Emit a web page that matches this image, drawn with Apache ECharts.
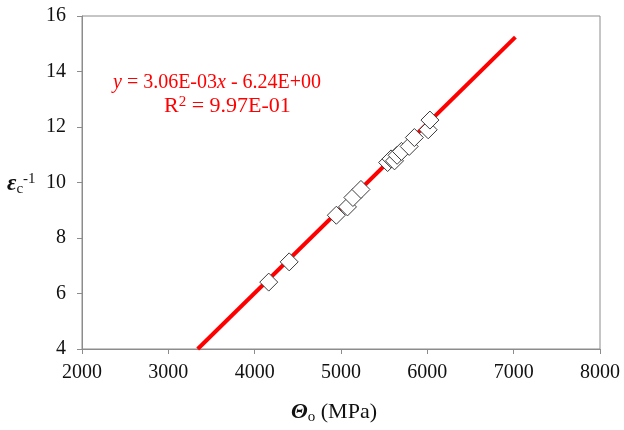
<!DOCTYPE html>
<html>
<head>
<meta charset="utf-8">
<script src="https://cdn.jsdelivr.net/npm/echarts@6/dist/echarts.min.js"></script>
<style>
html,body{margin:0;padding:0;background:#fff;}
#chart{width:624px;height:430px;}
</style>
</head>
<body>
<div id="chart"></div>
<script>
// Data
const thetaO = [4163, 4400, 4946, 5075, 5138, 5231, 5540, 5580, 5620, 5650, 5700, 5790, 5850, 6010, 6030];
const epsInv = [6.41, 7.14, 8.82, 9.12, 9.46, 9.75, 10.72, 10.85, 10.78, 10.98, 11.12, 11.30, 11.62, 11.90, 12.25];
const trendX = [3340, 7020];
const trendY = [4.0, 15.24];
const xTicks = [2000, 3000, 4000, 5000, 6000, 7000, 8000];
const yTicks = [4, 6, 8, 10, 12, 14, 16];
const eqLine1 = ['y', ' = 3.06E-03', 'x', ' - 6.24E+00'];
const eqLine2 = ['R', '2', ' = 9.97E-01'];

const serif = '"Liberation Serif", "DejaVu Serif", serif';
const chart = echarts.init(document.getElementById('chart'), null, {renderer: 'canvas'});

const scatterData = thetaO.map((x, i) => [x, epsInv[i]]);
const trendData = trendX.map((x, i) => [x, trendY[i]]);

chart.setOption({
  animation: false,
  backgroundColor: '#fff',
  grid: {
    left: 82, top: 16, right: 24, bottom: 81,
    show: true, borderColor: '#8c8c8c', borderWidth: 1, backgroundColor: 'transparent'
  },
  xAxis: {
    type: 'value',
    min: xTicks[0], max: xTicks[xTicks.length - 1], interval: 1000,
    axisLine: {show: true, lineStyle: {color: '#8c8c8c', width: 1}},
    axisTick: {show: true, inside: false, length: 5, lineStyle: {color: '#8c8c8c'}},
    splitLine: {show: false},
    axisLabel: {margin: 14, fontFamily: serif, fontSize: 20, color: '#111', formatter: v => String(v)}
  },
  yAxis: {
    type: 'value',
    min: yTicks[0], max: yTicks[yTicks.length - 1], interval: 2,
    axisLine: {show: true, lineStyle: {color: '#8c8c8c', width: 1}},
    axisTick: {show: true, inside: false, length: 5, lineStyle: {color: '#8c8c8c'}},
    splitLine: {show: false},
    axisLabel: {margin: 16, fontFamily: serif, fontSize: 20, color: '#111', formatter: v => String(v)}
  },
  series: [
    {
      type: 'line',
      data: trendData,
      symbol: 'none',
      clip: false,
      lineStyle: {color: '#ff0000', width: 4},
      z: 2
    },
    {
      type: 'scatter',
      data: scatterData,
      symbol: 'diamond',
      symbolSize: 18,
      itemStyle: {color: '#ffffff', opacity: 1, borderColor: '#3c3c3c', borderWidth: 1},
      emphasis: {disabled: true},
      z: 3
    }
  ],
  graphic: [
    {
      type: 'text', left: 113, top: 73,
      style: {
        rich: {
          it: {fontFamily: serif, fontSize: 20, fontStyle: 'italic', fill: '#ff0000'},
          n: {fontFamily: serif, fontSize: 20, fill: '#ff0000'}
        },
        text: '{it|' + eqLine1[0] + '}{n|' + eqLine1[1] + '}{it|' + eqLine1[2] + '}{n|' + eqLine1[3] + '}'
      }
    },
    {
      type: 'text', left: 164, top: 95,
      style: {
        rich: {
          n: {fontFamily: serif, fontSize: 22, fill: '#ff0000'},
          sup: {fontFamily: serif, fontSize: 15, fill: '#ff0000', verticalAlign: 'top', padding: [0, 0, 8, 0]}
        },
        text: '{n|' + eqLine2[0] + '}{sup|' + eqLine2[1] + '}{n|' + eqLine2[2] + '}'
      }
    },
    {
      type: 'text', left: 7, top: 172,
      style: {
        rich: {
          e: {fontFamily: serif, fontSize: 23, fontStyle: 'italic', fontWeight: 'bold', fill: '#111'},
          sub: {fontFamily: serif, fontSize: 15, fill: '#111', padding: [10, 0, 0, 0]},
          sup: {fontFamily: serif, fontSize: 15, fill: '#111', padding: [0, 0, 10, 0]}
        },
        text: '{e|ε}{sub|c}{sup|-1}'
      }
    },
    {
      type: 'text', left: 291, top: 401,
      style: {
        rich: {
          t: {fontFamily: serif, fontSize: 22, fontStyle: 'italic', fontWeight: 'bold', fill: '#111'},
          sub: {fontFamily: serif, fontSize: 15, fill: '#111', padding: [10, 0, 0, 0]},
          n: {fontFamily: serif, fontSize: 22, fill: '#111'}
        },
        text: '{t|Θ}{sub|o}{n| (MPa)}'
      }
    }
  ]
});
</script>
</body>
</html>
